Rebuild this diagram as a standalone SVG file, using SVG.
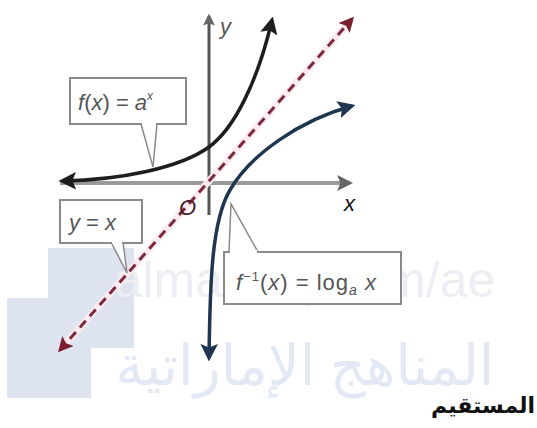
<svg xmlns="http://www.w3.org/2000/svg" width="537" height="428" viewBox="0 0 537 428">
<defs>
<style>
.lbl{font-family:"Liberation Sans",Arial,sans-serif;fill:#555;font-size:22px}
.box{fill:#fff;stroke:#8a8a8a;stroke-width:2}
.ptr{fill:#fff;stroke:#8a8a8a;stroke-width:1.5}
.ax{font-family:"Liberation Sans",Arial,sans-serif;font-style:italic;font-size:22px}
</style>
<marker id="ak" viewBox="0 0 10 10" refX="8" refY="5" markerWidth="5" markerHeight="5" orient="auto-start-reverse" markerUnits="strokeWidth"><path d="M0,0 L10,5 L0,10 L2,5 Z" fill="#1e1e1e"/></marker>
<marker id="ab" viewBox="0 0 10 10" refX="8" refY="5" markerWidth="5" markerHeight="5" orient="auto-start-reverse" markerUnits="strokeWidth"><path d="M0,0 L10,5 L0,10 L2,5 Z" fill="#1f3550"/></marker>
<marker id="ar" viewBox="0 0 10 10" refX="8" refY="5" markerWidth="5" markerHeight="5" orient="auto-start-reverse" markerUnits="strokeWidth"><path d="M0,0 L10,5 L0,10 L2,5 Z" fill="#7a1f30"/></marker>
<marker id="ag" viewBox="0 0 10 10" refX="8" refY="5" markerWidth="4" markerHeight="4" orient="auto-start-reverse" markerUnits="strokeWidth"><path d="M0,0 L10,5 L0,10 L2,5 Z" fill="#666"/></marker>
</defs>
<rect width="537" height="428" fill="#fff"/>
<g id="watermark">
<rect x="48" y="248" width="86" height="100" fill="#dde3ef"/>
<rect x="7" y="298" width="84" height="100" fill="#dde3ef"/>
<text x="305" y="297" text-anchor="middle" font-family="Liberation Sans,Arial,sans-serif" font-size="50" fill="#eceef3">almanahj.com/ae</text>
<text x="305" y="385" text-anchor="middle" font-family="'Noto Sans','DejaVu Sans',sans-serif" font-size="56" fill="#e3e9f4">المناهج الإماراتية</text>
</g>
<g id="axes">
<line x1="60" y1="183" x2="350" y2="183" stroke="#9a9a9a" stroke-width="4" marker-end="url(#ag)"/>
<line x1="209" y1="215" x2="209" y2="16" stroke="#555" stroke-width="3" marker-end="url(#ag)"/>
<text id="lbl-y" class="ax" x="220" y="34" fill="#555">y</text>
<text id="lbl-x" class="ax" x="344" y="211" fill="#111">x</text>
</g>
<g id="connectors">
<path id="exp" d="M62,181 C120,180 180,168 209,147 C235,128 258,80 272,20" fill="none" stroke="#1e1e1e" stroke-width="3.5" marker-start="url(#ak)" marker-end="url(#ak)"/>
<path id="log" d="M209,358 C210,280 212,220 230,190 C250,155 300,120 352,106" fill="none" stroke="#1f3550" stroke-width="3.5" marker-start="url(#ab)" marker-end="url(#ab)"/>
<line id="yx-glow" x1="60" y1="350" x2="352" y2="19" stroke="#fcebf0" stroke-width="7"/>
<line id="yx" x1="60" y1="350" x2="352" y2="19" stroke="#7a2a3c" stroke-width="3" stroke-dasharray="9,6" marker-start="url(#ar)" marker-end="url(#ar)"/>
</g>
<text id="lbl-o" class="ax" x="179" y="215" fill="#4a1a28" font-size="25">O</text>
<g id="label-f">
<path class="ptr" d="M141,124 L153,167 L157,124"/>
<rect class="box" x="70" y="78" width="116" height="46"/>
<rect x="142" y="121" width="14" height="4" fill="#fff"/>
<text class="lbl" x="78" y="110"><tspan font-style="italic">f</tspan>(<tspan font-style="italic">x</tspan>) = <tspan font-style="italic">a</tspan><tspan font-size="12" dy="-10" font-style="italic">x</tspan></text>
</g>
<g id="label-yx">
<path class="ptr" d="M111,242 L127,273 L123,242"/>
<rect class="box" x="60" y="200" width="82" height="43"/>
<rect x="112" y="240" width="10" height="4" fill="#fff"/>
<text class="lbl" x="69" y="230"><tspan font-style="italic">y</tspan> = <tspan font-style="italic">x</tspan></text>
</g>
<g id="label-finv">
<path class="ptr" d="M229,252 L231,204 L258,252"/>
<rect class="box" x="224" y="252" width="177" height="52"/>
<rect x="230" y="250" width="27" height="4" fill="#fff"/>
<text class="lbl" x="236" y="290" letter-spacing="1"><tspan font-style="italic">f</tspan><tspan font-size="13" dy="-9">−1</tspan><tspan dy="9">(</tspan><tspan font-style="italic">x</tspan>) = log<tspan font-size="14" dy="5" font-style="italic">a</tspan><tspan dy="-5" font-style="italic"> x</tspan></text>
</g>
<text id="caption" x="535" y="413" text-anchor="end" font-family="'Noto Sans','DejaVu Sans',sans-serif" font-size="22" font-weight="bold" fill="#111">المستقيم</text>
</svg>
